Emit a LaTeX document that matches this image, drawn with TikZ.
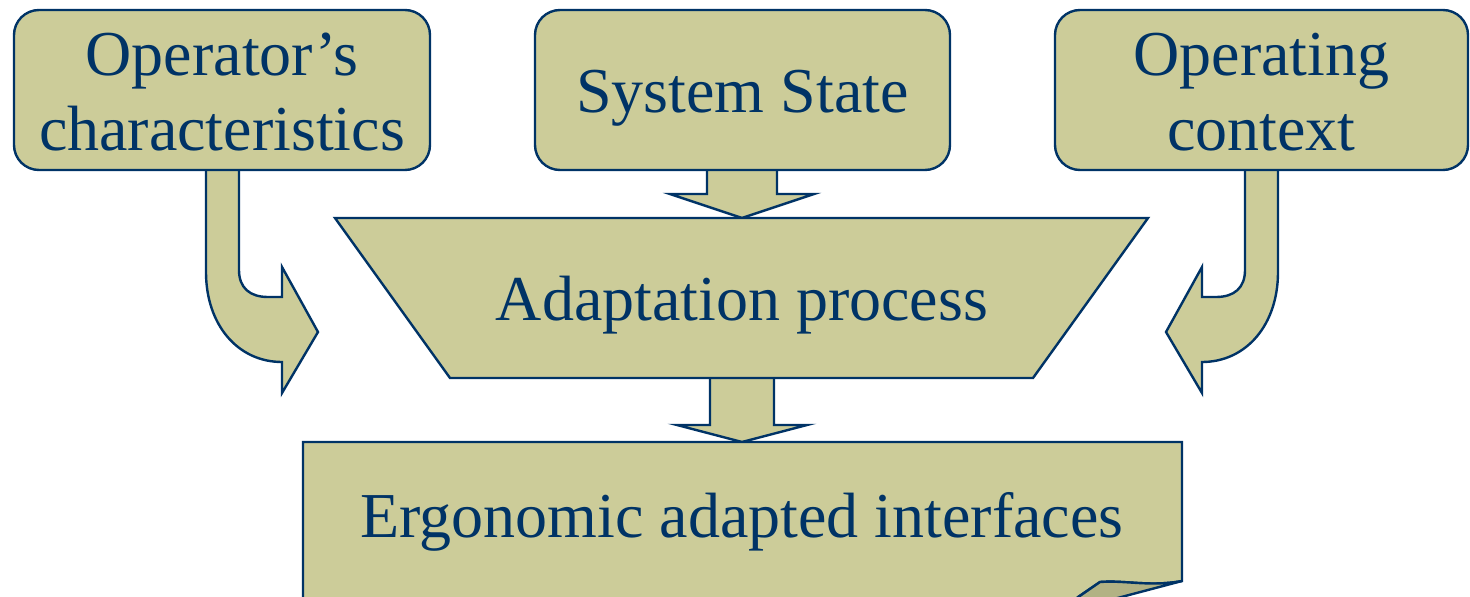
\documentclass[tikz,border=0pt]{standalone}
\usepackage{fontspec}
\setmainfont{Liberation Serif}
\usetikzlibrary{calc}
\definecolor{khaki}{RGB}{204,204,153}
\definecolor{fold}{RGB}{178,178,132}
\definecolor{navy}{RGB}{0,51,102}
\begin{document}
\begin{tikzpicture}[x=1pt,y=-1pt,
  blockshape/.style={fill=khaki,draw=navy,line width=2.4pt,line join=miter},
  box/.style={blockshape,rounded corners=25pt,minimum width=415pt,minimum height=160pt,inner sep=0pt},
  lbl/.style={text=navy,inner sep=0pt,anchor=base,font=\fontsize{64}{74}\selectfont}]
\useasboundingbox (0,0) rectangle (1470,597);
\clip (0,0) rectangle (1470,597);
% coordinates
\coordinate (trapTL) at (335,218);
\coordinate (trapTR) at (1148,218);
\coordinate (trapBR) at (1033,378);
\coordinate (trapBL) at (450,378);
\coordinate (trapTop) at (742,218);
\coordinate (trapBot) at (742,378);
\coordinate (ergTop) at (742,442);
% arrows (drawn first)
\path[blockshape] (707,170) -- (707,194) -- (670,194) -- (trapTop) -- (814,194) -- (777,194) -- (777,170);
\path[blockshape] (710,378) -- (710,425) -- (677,425) -- (ergTop) -- (807,425) -- (774,425) -- (774,378);
\path[blockshape] (206,170) -- (206,272) .. controls (206,325) and (238,362) .. (282,362) -- (282,393) -- (318,332)
  -- (282,267) -- (282,297) -- (268,297) .. controls (250,297) and (239,288) .. (239,270) -- (239,170);
\path[blockshape] (1278,170) -- (1278,272) .. controls (1278,325) and (1246,362) .. (1202,362) -- (1202,393) -- (1166,332)
  -- (1202,267) -- (1202,297) -- (1216,297) .. controls (1234,297) and (1245,288) .. (1245,270) -- (1245,170);
% boxes
\node[box,minimum width=416pt] (op) at (222,90) {};
\node[lbl] (op1) at ($(op.center)+(0,-15)$) {Operator’s};
\node[lbl] (op2) at ($(op.center)+(0,60)$) {characteristics};
\node[box] (sys) at (742.5,90) {};
\node[lbl] (sysl) at ($(sys.center)+(0,22)$) {System State};
\node[box,minimum width=413pt] (ctx) at (1261.5,90) {};
\node[lbl] (ctx1) at ($(ctx.center)+(0,-15)$) {Operating};
\node[lbl] (ctx2) at ($(ctx.center)+(0,60)$) {context};
% trapezoid
\path[blockshape] (trapTL) -- (trapTR) -- (trapBR) -- (trapBL) -- cycle;
\node[lbl] (adapt) at (742,320) {Adaptation process};
% bottom page
\path[blockshape] (303,610) -- (303,442) -- (1182,442) -- (1182,581) .. controls (1150,587) and (1125,580) .. (1100,582) -- (1078,597) -- (1070,610) -- cycle;
\path[fill=fold,draw=navy,line width=2.4pt] (1100,582) .. controls (1125,580) and (1150,587) .. (1182,581) -- (1110,600) -- (1074,600) -- cycle;
\node[lbl] (erg) at (742,537) {Ergonomic adapted interfaces};
\end{tikzpicture}
\end{document}
